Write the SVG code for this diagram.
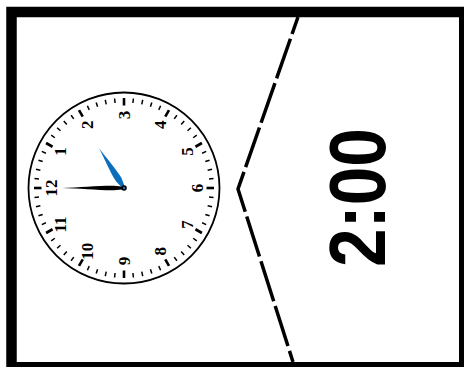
<svg xmlns="http://www.w3.org/2000/svg" xmlns:xlink="http://www.w3.org/1999/xlink" width="464" height="367" viewBox="0 0 464 367">
<style>
.num{font-family:"Liberation Serif",serif;font-weight:bold;font-size:17px;text-anchor:middle;dominant-baseline:central;fill:#000}
.mt{stroke:#000;stroke-width:1.5}
.ht{stroke:#000;stroke-width:2.6}
.digital{font-family:"Liberation Sans",Arial,sans-serif;font-weight:bold;font-size:80px;text-anchor:middle;fill:#000}
</style>
<defs>
<line id="mt" class="mt" x1="0" y1="-90" x2="0" y2="-85.5"/>
<line id="ht" class="ht" x1="0" y1="-90" x2="0" y2="-82.5"/>
</defs>
<rect x="0" y="0" width="464" height="367" fill="#fff"/>
<g id="connectors">
<path d="M298,17 L238,189 L293,362" fill="none" stroke="#000" stroke-width="3.5" stroke-dasharray="42 5" stroke-dashoffset="24" stroke-linejoin="miter"/>
</g>
<g id="frame">
<rect x="11.5" y="12" width="452.75" height="355.25" fill="none" stroke="#000" stroke-width="10.5"/>
</g>
<g id="analog-clock" transform="translate(124,188) rotate(-90)">
<circle r="95.5" fill="#fff" stroke="#000" stroke-width="1.8"/>
<g id="ticks">
<use xlink:href="#ht" transform="rotate(0)"/>
<use xlink:href="#mt" transform="rotate(6)"/>
<use xlink:href="#mt" transform="rotate(12)"/>
<use xlink:href="#mt" transform="rotate(18)"/>
<use xlink:href="#mt" transform="rotate(24)"/>
<use xlink:href="#ht" transform="rotate(30)"/>
<use xlink:href="#mt" transform="rotate(36)"/>
<use xlink:href="#mt" transform="rotate(42)"/>
<use xlink:href="#mt" transform="rotate(48)"/>
<use xlink:href="#mt" transform="rotate(54)"/>
<use xlink:href="#ht" transform="rotate(60)"/>
<use xlink:href="#mt" transform="rotate(66)"/>
<use xlink:href="#mt" transform="rotate(72)"/>
<use xlink:href="#mt" transform="rotate(78)"/>
<use xlink:href="#mt" transform="rotate(84)"/>
<use xlink:href="#ht" transform="rotate(90)"/>
<use xlink:href="#mt" transform="rotate(96)"/>
<use xlink:href="#mt" transform="rotate(102)"/>
<use xlink:href="#mt" transform="rotate(108)"/>
<use xlink:href="#mt" transform="rotate(114)"/>
<use xlink:href="#ht" transform="rotate(120)"/>
<use xlink:href="#mt" transform="rotate(126)"/>
<use xlink:href="#mt" transform="rotate(132)"/>
<use xlink:href="#mt" transform="rotate(138)"/>
<use xlink:href="#mt" transform="rotate(144)"/>
<use xlink:href="#ht" transform="rotate(150)"/>
<use xlink:href="#mt" transform="rotate(156)"/>
<use xlink:href="#mt" transform="rotate(162)"/>
<use xlink:href="#mt" transform="rotate(168)"/>
<use xlink:href="#mt" transform="rotate(174)"/>
<use xlink:href="#ht" transform="rotate(180)"/>
<use xlink:href="#mt" transform="rotate(186)"/>
<use xlink:href="#mt" transform="rotate(192)"/>
<use xlink:href="#mt" transform="rotate(198)"/>
<use xlink:href="#mt" transform="rotate(204)"/>
<use xlink:href="#ht" transform="rotate(210)"/>
<use xlink:href="#mt" transform="rotate(216)"/>
<use xlink:href="#mt" transform="rotate(222)"/>
<use xlink:href="#mt" transform="rotate(228)"/>
<use xlink:href="#mt" transform="rotate(234)"/>
<use xlink:href="#ht" transform="rotate(240)"/>
<use xlink:href="#mt" transform="rotate(246)"/>
<use xlink:href="#mt" transform="rotate(252)"/>
<use xlink:href="#mt" transform="rotate(258)"/>
<use xlink:href="#mt" transform="rotate(264)"/>
<use xlink:href="#ht" transform="rotate(270)"/>
<use xlink:href="#mt" transform="rotate(276)"/>
<use xlink:href="#mt" transform="rotate(282)"/>
<use xlink:href="#mt" transform="rotate(288)"/>
<use xlink:href="#mt" transform="rotate(294)"/>
<use xlink:href="#ht" transform="rotate(300)"/>
<use xlink:href="#mt" transform="rotate(306)"/>
<use xlink:href="#mt" transform="rotate(312)"/>
<use xlink:href="#mt" transform="rotate(318)"/>
<use xlink:href="#mt" transform="rotate(324)"/>
<use xlink:href="#ht" transform="rotate(330)"/>
<use xlink:href="#mt" transform="rotate(336)"/>
<use xlink:href="#mt" transform="rotate(342)"/>
<use xlink:href="#mt" transform="rotate(348)"/>
<use xlink:href="#mt" transform="rotate(354)"/>
</g>
<g id="numbers">
<text class="num" x="36.5" y="-63.2">1</text>
<text class="num" x="63.2" y="-36.5">2</text>
<text class="num" x="73" y="0">3</text>
<text class="num" x="63.2" y="36.5">4</text>
<text class="num" x="36.5" y="63.2">5</text>
<text class="num" x="0" y="73">6</text>
<text class="num" x="-36.5" y="63.2">7</text>
<text class="num" x="-63.2" y="36.5">8</text>
<text class="num" x="-73" y="0">9</text>
<text class="num" x="-63.2" y="-36.5">10</text>
<text class="num" x="-36.5" y="-63.2">11</text>
<text class="num" x="0" y="-73">12</text>
</g>
<g id="minute-hand">
<path d="M0,-62 C0.4,-45 2.4,-25 2.2,-10 L1.2,0 L-1.2,0 L-2.2,-10 C-2.4,-25 -0.4,-45 0,-62 Z" fill="#000"/>
</g>
<g id="hour-hand" transform="rotate(58)">
<path d="M0,-47 C1,-35 3.4,-20 3.2,-10 L1.2,0 L-1.2,0 L-3.2,-10 C-3.4,-20 -1,-35 0,-47 Z" fill="#0b6ebd"/>
</g>
<circle r="2.8" fill="#000"/>
<circle r="1.2" fill="#0b6ebd"/>
</g>
<g id="digital-clock">
<text class="digital" transform="translate(385,197.5) rotate(-90)" x="0" y="0" textLength="139" lengthAdjust="spacingAndGlyphs">2:00</text>
</g>
</svg>
